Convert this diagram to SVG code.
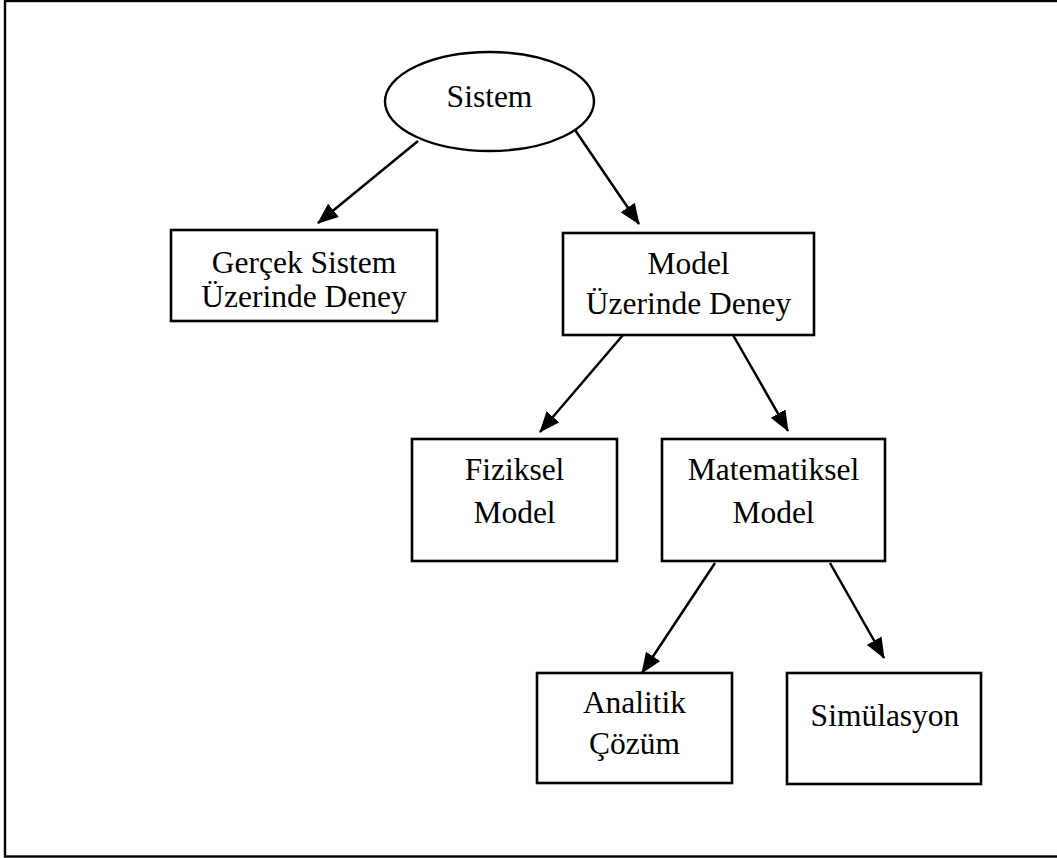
<svg xmlns="http://www.w3.org/2000/svg" width="1057" height="858" viewBox="0 0 1057 858">
<style>
.box{fill:#fff;stroke:#000;stroke-width:2.6}
.lbl{font-family:"Liberation Serif","Times New Roman",serif;font-size:31.5px;fill:#000;text-anchor:middle}
.conn{stroke:#000;stroke-width:2.5;fill:none;marker-end:url(#ah)}
</style>
<defs>
<marker id="ah" viewBox="0 0 21 17" refX="20" refY="8.5" markerUnits="userSpaceOnUse" markerWidth="21" markerHeight="17" orient="auto">
<path d="M0,0 L21,8.5 L0,17 z" fill="#000"/>
</marker>
</defs>
<rect x="0" y="0" width="1057" height="858" fill="#fff"/>
<rect x="5" y="1" width="1060" height="855.5" fill="none" stroke="#000" stroke-width="2.4"/>
<g id="connectors">
<line class="conn" x1="418" y1="141" x2="318" y2="223"/>
<line class="conn" x1="573" y1="127" x2="639" y2="224"/>
<line class="conn" x1="623" y1="335" x2="540" y2="432"/>
<line class="conn" x1="733" y1="335" x2="788" y2="431"/>
<line class="conn" x1="715" y1="563" x2="642" y2="673"/>
<line class="conn" x1="830" y1="563" x2="884" y2="658"/>
</g>
<g id="sistem">
<ellipse cx="489.5" cy="101.5" rx="104.5" ry="49.5" fill="#fff" stroke="#000" stroke-width="2.4"/>
<text class="lbl" x="489.5" y="107">Sistem</text>
</g>
<g id="gercek">
<rect class="box" x="171" y="230" width="266" height="91"/>
<text class="lbl" x="304" y="273">Gerçek Sistem</text>
<text class="lbl" x="304" y="307">Üzerinde Deney</text>
</g>
<g id="model">
<rect class="box" x="563" y="233" width="251" height="102"/>
<text class="lbl" x="688.5" y="274">Model</text>
<text class="lbl" x="688.5" y="314">Üzerinde Deney</text>
</g>
<g id="fiziksel">
<rect class="box" x="412" y="439" width="205" height="122"/>
<text class="lbl" x="514.5" y="480">Fiziksel</text>
<text class="lbl" x="514.5" y="523">Model</text>
</g>
<g id="matematiksel">
<rect class="box" x="662" y="439" width="223" height="122"/>
<text class="lbl" x="773.5" y="480">Matematiksel</text>
<text class="lbl" x="773.5" y="523">Model</text>
</g>
<g id="analitik">
<rect class="box" x="537" y="673" width="195" height="110"/>
<text class="lbl" x="634.5" y="713">Analitik</text>
<text class="lbl" x="634.5" y="754">Çözüm</text>
</g>
<g id="simulasyon">
<rect class="box" x="787" y="673" width="194" height="111"/>
<text class="lbl" x="885" y="726">Simülasyon</text>
</g>
</svg>
